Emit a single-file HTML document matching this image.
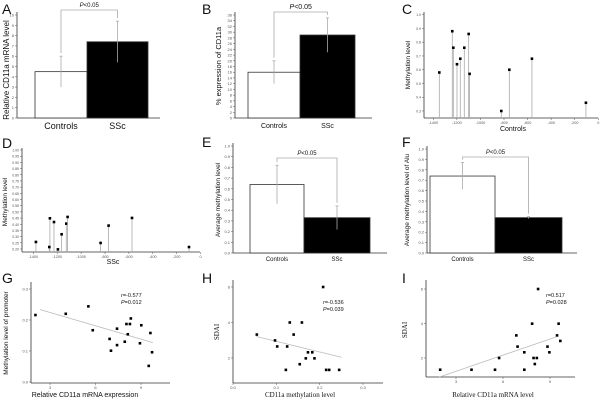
<!DOCTYPE html>
<html><head><meta charset="utf-8"><style>
html,body{margin:0;padding:0;background:#fff;}
svg{display:block;font-family:"Liberation Sans",sans-serif;}
</style></head><body>
<svg id="fig" width="600" height="402" viewBox="0 0 600 402"></svg>
<script>
// ---- data ----
const barCats = ["Controls","SSc"];
const aVals = [4.5, 7.4];   const aErr = [1.5, 2.0];
const bVals = [16, 29];     const bErr = [4, 6];
const eVals = [0.64, 0.33]; const eErr = [0.18, 0.11];
const fVals = [0.74, 0.34]; const fErr = [0.13, 0.01];
const aTicks = [0,1,2,3,4,5,6,7,8,9,10];
const bTicks = [0,2,4,6,8,10,12,14,16,18,20,22,24,26,28,30,32,34,36];
const efTicks = [0,0.1,0.2,0.3,0.4,0.5,0.6,0.7,0.8,0.9,1.0];

const cPos = [-1349,-1239,-1230,-1199,-1171,-1137,-1100,-1092,-823,-755,-563,-105];
const cMeth = [0.58,0.88,0.76,0.64,0.68,0.76,0.86,0.57,0.30,0.60,0.68,0.36];
const dPos = [-1378,-1261,-1266,-1227,-1194,-1163,-1124,-1113,-837,-770,-574,-97];
const dMeth = [0.257,0.448,0.216,0.418,0.197,0.319,0.405,0.459,0.249,0.389,0.451,0.216];
const posTicks = [-1400,-1200,-1000,-800,-600,-400,-200,0];
const cYTicks = [0.3,0.4,0.5,0.6,0.7,0.8,0.9,1.0];
const dYTicks = [0.2,0.25,0.3,0.35,0.4,0.45,0.5,0.55,0.6,0.65,0.7,0.75,0.8,0.85,0.9,0.95,1.0];

const gX = [2.04,4.04,5.53,5.82,6.93,7.02,7.42,7.42,7.93,8.04,8.13,8.27,8.33,8.93,9.02,9.51,9.62,9.73];
const gY = [0.216,0.22,0.244,0.167,0.139,0.101,0.172,0.119,0.130,0.187,0.154,0.187,0.205,0.125,0.183,0.052,0.158,0.096];
const gFit = [2.33,0.234,9.78,0.127];
const hX = [0.208,0.055,0.131,0.159,0.140,0.097,0.102,0.125,0.173,0.183,0.168,0.188,0.154,0.122,0.215,0.222,0.245];
const hY = [6.0,3.32,4.0,4.0,3.32,2.99,2.65,2.65,2.32,2.32,1.98,1.98,1.65,1.33,1.33,1.33,1.33];
const hFit = [0.054,3.21,0.25,2.04];
const iX = [1.99,3.99,5.49,5.75,6.85,6.93,7.36,7.36,7.86,7.95,8.03,8.16,8.24,8.84,8.96,9.45,9.55,9.66];
const iY = [1.32,1.32,1.32,2.0,3.31,2.66,2.33,1.32,3.99,2.0,1.65,2.0,6.0,2.66,2.33,3.31,3.99,2.99];
const iFit = [1.94,0.90,9.38,3.22];

const svg = document.getElementById('fig');
const NS = 'http://www.w3.org/2000/svg';
function mk(tag, attrs, parent){
  const e = document.createElementNS(NS, tag);
  for (const k in attrs) e.setAttribute(k, attrs[k]);
  (parent||svg).appendChild(e); return e;
}
function txt(x,y,s,size,anchor,parent,extra){
  const t = mk('text',Object.assign({x:x,y:y,'font-size':size,'text-anchor':anchor||'middle',fill:'#111'},extra||{}),parent);
  t.textContent = s; return t;
}
function scale(d0,d1,r0,r1){return v=>r0+(v-d0)/(d1-d0)*(r1-r0);}
function group(name){
  const g = mk('g',{});
  
  
  return g;
}
function panelLetter(g,l,x,y){
  const t = txt(x,y,l,14,'start',g);
  
  
}
function yAxis(g,x,yTop,yBot,ticks,ys,fmt,fs){
  mk('line',{x1:x,y1:yTop,x2:x,y2:yBot,stroke:'#333','stroke-width':0.8},g);
  ticks.forEach(t=>{
    const y=ys(t);
    mk('line',{x1:x-2,y1:y,x2:x,y2:y,stroke:'#555','stroke-width':0.5},g);
    txt(x-3,y+1.5,fmt(t),fs||4,'end',g,{fill:'#555'});
  });
}
function yTitle(g,x,y,s,fs,serif){
  const t = txt(x,y,s,fs,'middle',g,{transform:'rotate(-90 '+x+' '+y+')'});
  if(serif) t.setAttribute('font-family','"Liberation Serif",serif');
  
  
}

// ---- bar panels ----
function barPanel(cfg){
  const g = group('panel-'+cfg.letter.toLowerCase());
  panelLetter(g,cfg.letter,cfg.lx,cfg.ly);
  const ys = scale(cfg.ymin,cfg.ymax,cfg.yb,cfg.yt);
  yAxis(g,cfg.ax,cfg.yt-3,cfg.yb,cfg.ticks,ys,cfg.fmt);
  mk('line',{x1:cfg.ax,y1:cfg.yb,x2:cfg.axEnd,y2:cfg.yb,stroke:'#333','stroke-width':0.8},g);
  const xs = [cfg.x0, cfg.x1, cfg.x2];
  const tops=[];
  cfg.vals.forEach((v,i)=>{
    const y=ys(v);
    const r = mk('rect',{x:xs[i],y:y,width:xs[i+1]-xs[i],height:cfg.yb-y,fill:i?'#000':'#fff',stroke:'#333','stroke-width':0.8},g);
    
    
    const cx=(xs[i]+xs[i+1])/2;
    const hi=ys(v+cfg.err[i]), lo=ys(v-cfg.err[i]);
    const eb = mk('line',{x1:cx,y1:hi,x2:cx,y2:lo,stroke:'#aaa','stroke-width':0.8},g);
    
    
    mk('line',{x1:cx-1.5,y1:hi,x2:cx+1.5,y2:hi,stroke:'#aaa','stroke-width':0.8},g);
    tops.push([cx,hi]);
    const lb = txt(cx,cfg.yb+cfg.labOff,barCats[i],cfg.catFs,'middle',g);
    
    
  });
  const br = mk('polyline',{points:`${tops[0][0]},${tops[0][1]-3} ${tops[0][0]},${cfg.bry} ${tops[1][0]},${cfg.bry} ${tops[1][0]},${tops[1][1]-3}`,fill:'none',stroke:'#aaa','stroke-width':0.8},g);
  
  
  const p = txt((tops[0][0]+tops[1][0])/2,cfg.bry-3,'',cfg.pFs,'middle',g);
  p.innerHTML = '<tspan font-style="italic">P</tspan>&lt;0.05';
  
  
  yTitle(g,cfg.tx,cfg.ty,cfg.title,cfg.titleFs);
}
barPanel({letter:'A',lx:2,ly:14,ax:17,axEnd:160,yt:15,yb:118,ymin:0,ymax:10,ticks:aTicks,fmt:v=>String(v),
  x0:35,x1:87,x2:148,vals:aVals,err:aErr,bry:10,tx:9,ty:70,title:'Relative CD11a mRNA level',titleFs:8,catFs:9,labOff:11,pFs:6});
barPanel({letter:'B',lx:202,ly:14,ax:235,axEnd:372,yt:15,yb:118,ymin:0,ymax:36,ticks:bTicks,fmt:v=>String(v),
  x0:248,x1:300,x2:355,vals:bVals,err:bErr,bry:12,tx:221,ty:66,title:'% expression of CD11a',titleFs:7.5,catFs:7,labOff:10,pFs:7});
barPanel({letter:'E',lx:202,ly:147,ax:233,axEnd:387,yt:146,yb:253,ymin:0,ymax:1.0,ticks:efTicks,fmt:v=>v.toFixed(1),
  x0:250,x1:304,x2:370,vals:eVals,err:eErr,bry:158,tx:220,ty:200,title:'Average methylation level',titleFs:6.5,catFs:6,labOff:8,pFs:6});
barPanel({letter:'F',lx:402,ly:147,ax:427,axEnd:577,yt:149,yb:253,ymin:0,ymax:1.0,ticks:efTicks,fmt:v=>v.toFixed(1),
  x0:430,x1:495,x2:562,vals:fVals,err:fErr,bry:157,tx:409,ty:200,title:'Average methylation level of Alu',titleFs:6.5,catFs:6,labOff:8,pFs:6});

// ---- lollipop panels ----
function stemPanel(cfg){
  const g = group('panel-'+cfg.letter.toLowerCase());
  panelLetter(g,cfg.letter,cfg.lx,cfg.ly);
  const xs = scale(-1400,0,cfg.xa,cfg.xb);
  const ys = scale(cfg.t0,cfg.t1,cfg.y0,cfg.y1);
  yAxis(g,cfg.ax,cfg.yt,cfg.yb,cfg.yticks,ys,cfg.fmt,3.5);
  mk('line',{x1:cfg.ax,y1:cfg.yb,x2:cfg.axEnd,y2:cfg.yb,stroke:'#333','stroke-width':0.8},g);
  posTicks.forEach(t=>{
    const x=xs(t);
    mk('line',{x1:x,y1:cfg.yb,x2:x,y2:cfg.yb+2,stroke:'#555','stroke-width':0.5},g);
    txt(x,cfg.yb+6,String(t),3.8,'middle',g,{fill:'#555'});
  });
  cfg.pos.forEach((p,i)=>{
    const x=xs(p), y=ys(cfg.vals[i]);
    mk('line',{x1:x,y1:y,x2:x,y2:cfg.yb,stroke:'#aaa','stroke-width':0.8},g);
    const c = mk('rect',{x:x-1.3,y:y-1.3,width:2.6,height:2.6,fill:'#000'},g);
    
    
  });
  const xt = txt(cfg.xtx,cfg.xty,cfg.xtitle,7,'middle',g);
  
  
  yTitle(g,cfg.tx,cfg.ty,'Methylation level',6.5);
}
stemPanel({letter:'C',lx:402,ly:14,ax:424,axEnd:598,yt:12,yb:118,xa:433.3,xb:598.3,t0:0.3,t1:1.0,y0:111,y1:14.7,
  yticks:cYTicks,fmt:v=>v.toFixed(1),pos:cPos,vals:cMeth,xtx:513,xty:131,xtitle:'Controls',tx:410,ty:65});
stemPanel({letter:'D',lx:2,ly:148,ax:22,axEnd:200,yt:148,yb:252,xa:33.3,xb:200.6,t0:0.2,t1:1.0,y0:249,y1:150,
  yticks:dYTicks,fmt:v=>v.toFixed(2),pos:dPos,vals:dMeth,xtx:113,xty:264,xtitle:'SSc',tx:7,ty:202});

// ---- scatter panels ----
function scatterPanel(cfg){
  const g = group('panel-'+cfg.letter.toLowerCase());
  panelLetter(g,cfg.letter,cfg.lx,cfg.ly);
  const xs = scale(cfg.xd[0],cfg.xd[1],cfg.xr[0],cfg.xr[1]);
  const ys = scale(cfg.yd[0],cfg.yd[1],cfg.yr[0],cfg.yr[1]);
  yAxis(g,cfg.ax,cfg.yt,cfg.yb,cfg.yticks,ys,cfg.yfmt,4);
  mk('line',{x1:cfg.ax,y1:cfg.yb,x2:cfg.axEnd,y2:cfg.yb,stroke:'#333','stroke-width':0.8},g);
  cfg.xticks.forEach(t=>{
    const x=xs(t);
    mk('line',{x1:x,y1:cfg.yb,x2:x,y2:cfg.yb+2,stroke:'#555','stroke-width':0.5},g);
    txt(x,cfg.yb+6,cfg.xfmt(t),4,'middle',g,{fill:'#555'});
  });
  const f=cfg.fit;
  const fl = mk('line',{x1:xs(f[0]),y1:ys(f[1]),x2:xs(f[2]),y2:ys(f[3]),stroke:'#bbb','stroke-width':0.8},g);
  
  
  cfg.x.forEach((v,i)=>{
    const p = mk('rect',{x:xs(v)-1.3,y:ys(cfg.y[i])-1.3,width:2.6,height:2.6,fill:'#000'},g);
    
    
  });
  const r = txt(cfg.sx,cfg.sy,'',5.5,'start',g);
  r.innerHTML = '<tspan font-style="italic">r</tspan>='+cfg.r;
  
  
  const p = txt(cfg.sx,cfg.sy+7,'',5.5,'start',g);
  p.innerHTML = '<tspan font-style="italic">P</tspan>='+cfg.p;
  
  
  const xt = txt(cfg.xtx,397,cfg.xtitle,7,'middle',g);
  if(cfg.serif) xt.setAttribute('font-family','"Liberation Serif",serif');
  
  
  yTitle(g,cfg.tx,cfg.ty,cfg.ytitle,cfg.serif?7:6.5,cfg.serif);
}
scatterPanel({letter:'G',lx:2,ly:283,ax:31,axEnd:170,yt:282,yb:383,xd:[3,9],xr:[50,141],yd:[0,0.3],yr:[382,289],
  xticks:[3,6,9],xfmt:v=>String(v),yticks:[0,0.1,0.2,0.3],yfmt:v=>v.toFixed(1),x:gX,y:gY,fit:gFit,
  sx:121,sy:297,r:'-0.577',p:'0.012',xtx:85,xtitle:'Relative CD11a mRNA expression',tx:8,ty:333,ytitle:'Methylation level of promoter'});
scatterPanel({letter:'H',lx:202,ly:283,ax:233,axEnd:383,yt:280,yb:383,xd:[0,0.3],xr:[233,363],yd:[2,6],yr:[358,287],
  xticks:[0,0.1,0.2,0.3],xfmt:v=>v.toFixed(1),yticks:[2,4,6],yfmt:v=>String(v),x:hX,y:hY,fit:hFit,
  sx:323,sy:304,r:'-0.536',p:'0.039',xtx:300,xtitle:'CD11a methylation level',tx:219,ty:332,ytitle:'SDAI',serif:true});
scatterPanel({letter:'I',lx:402,ly:283,ax:426,axEnd:575,yt:280,yb:377,xd:[3,9],xr:[456,550],yd:[2,6],yr:[358,289],
  xticks:[3,6,9],xfmt:v=>String(v),yticks:[2,4,6],yfmt:v=>String(v),x:iX,y:iY,fit:iFit,
  sx:546,sy:297,r:'0.517',p:'0.028',xtx:493,xtitle:'Relative CD11a mRNA level',tx:407,ty:330,ytitle:'SDAI',serif:true});
</script>
</body></html>
